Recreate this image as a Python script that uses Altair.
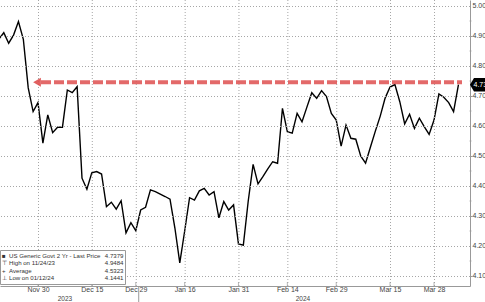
import altair as alt
import pandas as pd

# US Generic Govt 2 Yr yield, one value per trading day (first value = Nov 17, 2023)
yields = [
    4.890, 4.911, 4.876, 4.903, 4.948, 4.889, 4.727, 4.648, 4.678, 4.543,
    4.637, 4.578, 4.596, 4.596, 4.720, 4.711, 4.731, 4.426, 4.389, 4.444,
    4.448, 4.440, 4.331, 4.346, 4.323, 4.351, 4.244, 4.278, 4.251, 4.320,
    4.329, 4.387, 4.381, 4.373, 4.365, 4.356, 4.260, 4.144, 4.250, 4.361,
    4.353, 4.384, 4.392, 4.370, 4.381, 4.294, 4.348, 4.320, 4.337, 4.207,
    4.203, 4.350, 4.472, 4.407, 4.431, 4.457, 4.481, 4.476, 4.659, 4.581,
    4.576, 4.642, 4.614, 4.663, 4.711, 4.692, 4.718, 4.698, 4.642, 4.620,
    4.533, 4.603, 4.559, 4.556, 4.500, 4.476, 4.530, 4.583, 4.633, 4.693,
    4.730, 4.738, 4.681, 4.607, 4.639, 4.592, 4.626, 4.598, 4.572, 4.620,
    4.707, 4.696, 4.678, 4.648, 4.7379,
]
first_index = -1  # trading-day index of first value (Nov 20, 2023 = 0)

tick_idx = [7, 18, 27, 37, 48, 58, 68, 79, 88]
tick_labels = ["Nov 30", "Dec 15", "Dec 29", "Jan 16", "Jan 31",
               "Feb 14", "Feb 29", "Mar 15", "Mar 28"]
year_labels = ["2023", "2024"]
year_centers = [12.5, 61.2]
year_boundary = 27.5

y_ticks = [4.10, 4.20, 4.30, 4.40, 4.50, 4.60, 4.70, 4.80, 4.90, 5.00]
y_minor = [4.15, 4.25, 4.35, 4.45, 4.55, 4.65, 4.75, 4.85, 4.95]

legend_labels = ["US Generic Govt 2 Yr - Last Price", "High on 11/24/23",
                 "Average", "Low on 01/12/24"]
legend_values = ["4.7379", "4.9484", "4.5323", "4.1441"]
legend_symbols = ["■", "⊤", "+", "⊥"]

last_price = 4.7379
arrow_level = 4.746

FONT = "Liberation Sans"
RED = "#de4f4f"
GRID = "#a6a6a6"

df = pd.DataFrame({"i": list(range(first_index, first_index + len(yields))),
                   "v": yields})
one = alt.Chart(pd.DataFrame({"k": [0]}))

label_expr = " : ".join(
    [f"datum.value == {t} ? '{l}'" for t, l in zip(tick_idx, tick_labels)]
) + " : ''"

X = alt.Scale(domain=[-0.773, 95.36], nice=False, zero=False)
Y = alt.Scale(domain=[4.0667, 5.02], nice=False, zero=False)

line = alt.Chart(df).mark_line(color="black", strokeWidth=1.4, clip=True).encode(
    x=alt.X("i:Q", scale=X, title=None, axis=alt.Axis(
        values=tick_idx, labelExpr=label_expr, grid=False, ticks=False,
        domainColor="#999", labelFontSize=7, labelColor="#444",
        labelPadding=-1, labelFont=FONT, labelFlush=False,
        labelOverlap=False)),
    y=alt.Y("v:Q", scale=Y, title=None, axis=alt.Axis(
        orient="right", values=y_ticks, grid=False, labels=False,
        domainColor="#999", tickColor="#999", tickSize=2)),
)

hgrid = alt.Chart(pd.DataFrame({"v": y_ticks})).mark_rule(
    color=GRID, strokeDash=[1, 2], strokeWidth=1, yOffset=0.5).encode(
    y=alt.Y("v:Q", scale=Y))

vgrid = alt.Chart(pd.DataFrame({"i": tick_idx})).mark_rule(
    color=GRID, strokeDash=[1, 2], strokeWidth=1, xOffset=0.5).encode(
    x=alt.X("i:Q", scale=X))

ylabels = alt.Chart(pd.DataFrame({"v": y_ticks})).mark_text(
    align="left", baseline="middle", fontSize=7, font=FONT, color="#444").encode(
    y=alt.Y("v:Q", scale=Y), x=alt.value(472.5),
    text=alt.Text("v:Q", format=".2f"))

xticks = alt.Chart(pd.DataFrame({"i": tick_idx})).mark_tick(
    orient="vertical", size=4, thickness=1, color="#999").encode(
    x=alt.X("i:Q", scale=X), y=alt.value(284))

minor = alt.Chart(pd.DataFrame({"v": y_minor})).mark_tick(
    size=2, thickness=1, color="#999").encode(
    y=alt.Y("v:Q", scale=Y), x=alt.value(470.5))

dash = one.mark_rule(color=RED, strokeDash=[10, 3], strokeWidth=4, opacity=0.85).encode(
    x=alt.value(41), x2=alt.value(462), y=alt.datum(arrow_level))

head = one.mark_point(shape="triangle-left", filled=True, size=80,
                      color=RED, opacity=0.9).encode(
    x=alt.value(37), y=alt.datum(arrow_level))

price_box = one.mark_point(
    shape="M-1.27,0 L-1,-0.45 L1,-0.45 L1,0.45 L-1,0.45 Z",
    filled=True, size=900, color="black", opacity=1).encode(
    x=alt.value(489), y=alt.datum(last_price))

price_text = one.mark_text(align="left", baseline="middle", color="white",
                           fontSize=7, font=FONT).encode(
    x=alt.value(473.5), y=alt.datum(last_price), text=alt.value(f"{last_price:.4f}"))

legend_box = one.mark_rect(fill="white", stroke="#999", strokeWidth=1).encode(
    x=alt.value(0.5), x2=alt.value(125.5), y=alt.value(250.5), y2=alt.value(284.5))

legend_sym = one.mark_text(align="left", baseline="top", fontSize=6.1, font=FONT,
                           lineBreak="\n", lineHeight=7.5, color="#333").encode(
    x=alt.value(2), y=alt.value(252.5), text=alt.value("\n".join(legend_symbols)))

legend_txt = one.mark_text(align="left", baseline="top", fontSize=6.1, font=FONT,
                           lineBreak="\n", lineHeight=7.5, color="#333").encode(
    x=alt.value(9), y=alt.value(252.5), text=alt.value("\n".join(legend_labels)))

legend_val = one.mark_text(align="right", baseline="top", fontSize=6.1, font=FONT,
                           lineBreak="\n", lineHeight=7.5, color="#333").encode(
    x=alt.value(123.5), y=alt.value(252.5), text=alt.value("\n".join(legend_values)))

years = alt.Chart(pd.DataFrame({"i": year_centers, "y": year_labels})).mark_text(
    baseline="middle", fontSize=6.5, font=FONT, color="#444").encode(
    x=alt.X("i:Q", scale=X), y=alt.value(298.5), text="y:N")

sep = one.mark_rule(color="#999", strokeWidth=1, xOffset=0.5).encode(
    x=alt.datum(year_boundary), y=alt.value(286), y2=alt.value(302))

chart = alt.layer(
    line, hgrid, vgrid, ylabels, xticks, minor, dash, head, price_box, price_text,
    legend_box, legend_sym, legend_txt, legend_val, years, sep
).properties(
    width=470, height=286, background="white",
    padding={"left": 0, "top": 0, "right": 15, "bottom": 16},
    autosize=alt.AutoSizeParams(type="none"),
).configure_view(stroke=None)

chart.save("out.html", embed_options={"renderer": "svg", "actions": False})
